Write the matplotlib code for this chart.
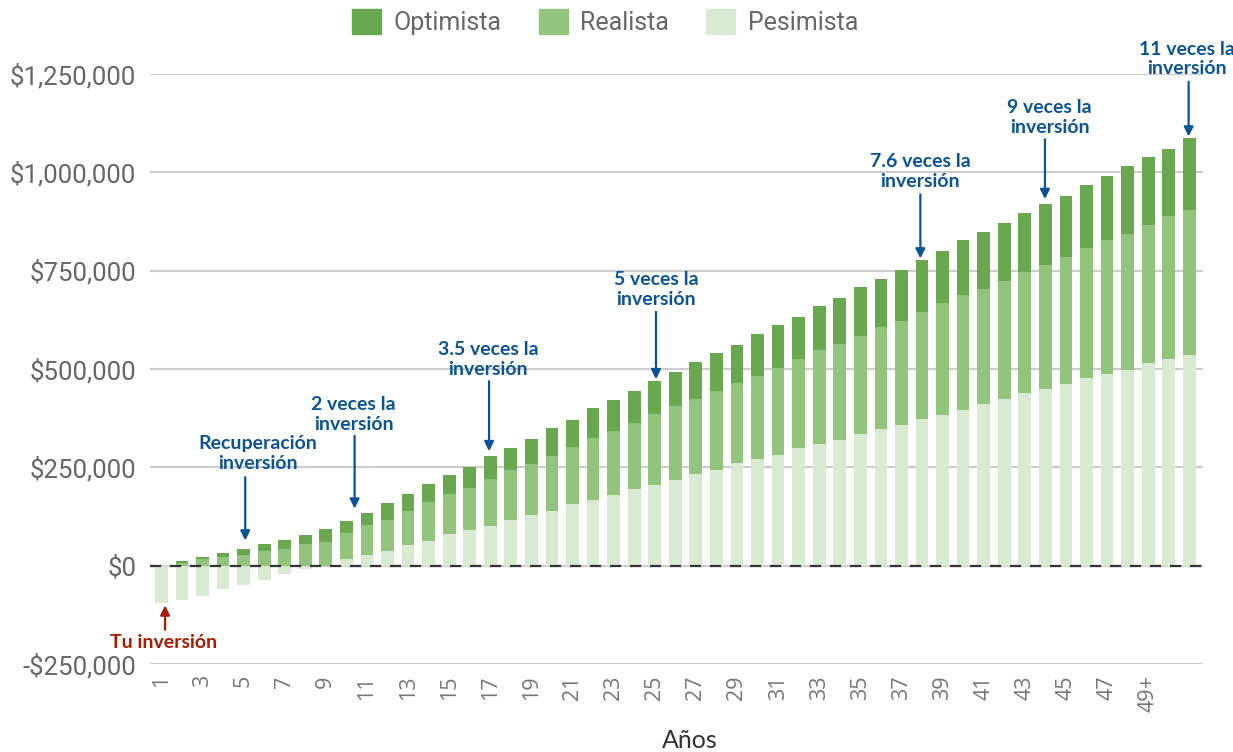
import matplotlib.pyplot as plt
from matplotlib.patches import Rectangle
from matplotlib.ticker import FuncFormatter

# valores por año, en miles de dólares (segmentos apilados)
years = [str(i) for i in range(1, 49)] + ['49+', '', '']
pesimista = [-95, -87, -76, -59, -48, -37, -21, -9, 0, 17,
             26, 37, 53, 64, 80, 90, 101, 117, 128, 139,
             156, 168, 179, 196, 206, 217, 233, 244, 260, 270,
             281, 298, 310, 319, 336, 347, 358, 374, 384, 395,
             411, 423, 439, 450, 461, 477, 487, 498, 515, 526, 536]
realista = [0, 7, 17, 22, 27, 37, 43, 54, 60, 65,
            77, 80, 86, 97, 102, 108, 119, 125, 130, 140,
            145, 157, 163, 167, 179, 189, 190, 200, 205, 212,
            222, 228, 238, 245, 249, 259, 264, 271, 283, 293,
            293, 302, 308, 314, 325, 330, 341, 346, 352, 363, 368]
optimista = [0, 5, 5, 11, 16, 17, 23, 23, 32, 31,
             31, 42, 42, 47, 48, 54, 59, 58, 64, 70,
             70, 75, 80, 80, 85, 86, 96, 97, 97, 107,
             108, 107, 112, 117, 124, 124, 129, 133, 133, 139,
             145, 145, 150, 155, 155, 162, 162, 173, 172, 171, 184]

# notas: (texto, color, x texto, y texto, x flecha, y cola, y punta)
notes = [
    ('Tu inversión', '#a61c00', 0.1, -196, 0.18, -163, -101),
    ('Recuperación\ninversión', '#0b5394', 4.7, 286, 4.08, 225, 64),
    ('2 veces la\ninversión', '#0b5394', 9.35, 385, 9.4, 330, 145),
    ('3.5 veces la\ninversión', '#0b5394', 15.9, 524, 15.94, 469, 291),
    ('5 veces la\ninversión', '#0b5394', 24.06, 703, 24.06, 645, 474),
    ('7.6 veces la\ninversión', '#0b5394', 36.9, 1002, 36.92, 944, 781),
    ('9 veces la\ninversión', '#0b5394', 43.2, 1140, 42.98, 1084, 932),
    ('11 veces la\ninversión', '#0b5394', 49.9, 1288, 49.97, 1230, 1091),
]

c_opt = '#6aa84f'
c_real = '#93c47d'
c_pes = '#d9ead3'
gray = '#666666'

fig = plt.figure(figsize=(12.33, 7.52), dpi=100)
ax = fig.add_axes([0.1217, 0.117, 0.854, 0.7846])

x = list(range(len(years)))
pes = [v * 1000 for v in pesimista]
real = [v * 1000 for v in realista]
opt = [v * 1000 for v in optimista]
base_real = [max(p, 0) for p in pes]
base_opt = [b + r for b, r in zip(base_real, real)]

w = 0.62
ax.bar(x, pes, width=w, color=c_pes, zorder=2)
ax.bar(x, real, width=w, bottom=base_real, color=c_real, zorder=2)
ax.bar(x, opt, width=w, bottom=base_opt, color=c_opt, zorder=2)

ax.set_xlim(-0.55, 50.67)
ax.set_ylim(-250000, 1250000)
ax.set_yticks(range(-250000, 1250001, 250000))
ax.yaxis.set_major_formatter(FuncFormatter(
    lambda v, pos: ('-$' if v < 0 else '$') + f'{abs(v):,.0f}'))
ax.grid(axis='y', color='#cccccc', lw=1.5, zorder=0)
ax.axhline(0, color='#333333', lw=1.6, ls=(0, (5, 4)), zorder=3)

ax.set_xticks(x[::2])
ax.set_xticklabels(years[::2], rotation=90, fontsize=15.5, color='#757575',
                   family='Open Sans')
for lab in ax.get_yticklabels():
    lab.set_family('Roboto')
ax.tick_params(axis='y', length=0, pad=10, labelsize=18.5, labelcolor=gray)
ax.tick_params(axis='x', length=0, pad=8)
for s in ax.spines.values():
    s.set_visible(False)

for txt, col, tx, ty, ax_x, tail, tip in notes:
    ax.text(tx, ty * 1000, txt, ha='center', va='center', color=col,
            fontsize=14, fontweight='bold', family='Lato', linespacing=1.2,
            zorder=5, clip_on=False)
    ax.annotate('', xy=(ax_x, tip * 1000), xytext=(ax_x, tail * 1000),
                arrowprops=dict(arrowstyle='-|>', color=col, lw=1.6,
                                mutation_scale=14, shrinkA=0, shrinkB=0),
                annotation_clip=False, zorder=5)

fig.text(690 / 1233, 1 - 740 / 752, 'Años', ha='center', va='center',
         fontsize=18, family='Lato', fontweight='normal', color='#333333')

handles = [Rectangle((0, 0), 1, 1, color=c) for c in (c_opt, c_real, c_pes)]
fig.legend(handles, ['Optimista', 'Realista', 'Pesimista'], loc='center',
           bbox_to_anchor=(605 / 1233, 1 - 22 / 752), ncol=3, frameon=False,
           handlelength=1.15, handleheight=1.15, columnspacing=1.5,
           handletextpad=0.5, prop={'family': 'Roboto', 'size': 18},
           labelcolor=gray)

fig.savefig('out.png', dpi=100)
